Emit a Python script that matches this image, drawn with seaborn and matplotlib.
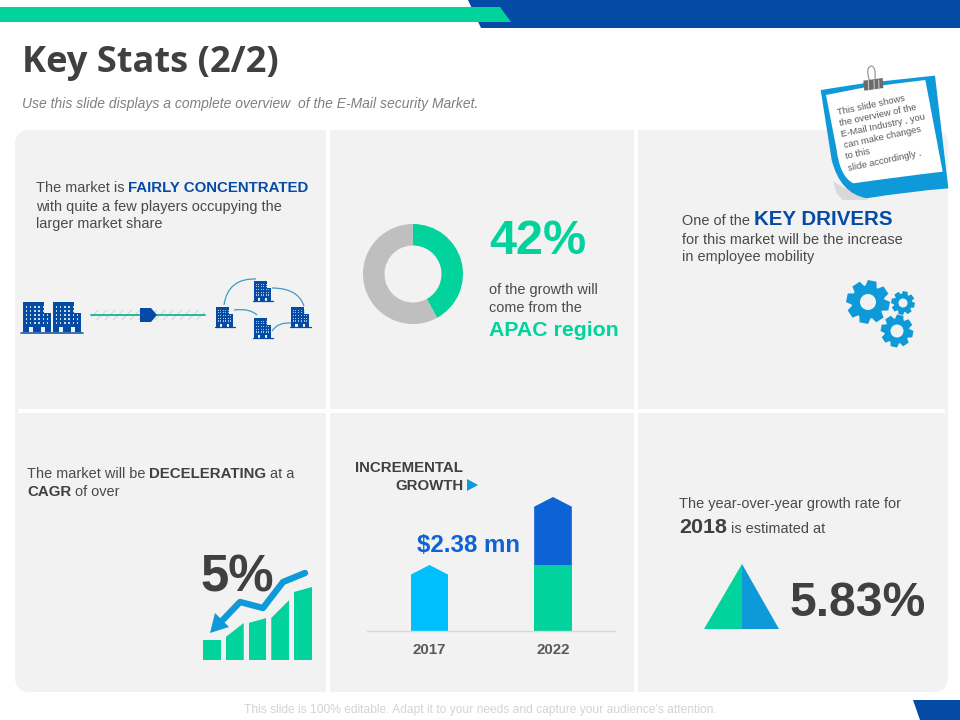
import numpy as np
import pandas as pd
import matplotlib
matplotlib.use("Agg")
import matplotlib.pyplot as plt
import seaborn as sns
from matplotlib.patches import Polygon, PathPatch, FancyBboxPatch, Rectangle, Circle
from matplotlib.path import Path

# ---- data -------------------------------------------------------------
share_labels = ["APAC", "Rest"]
share_values = [42, 58]
years = ["2017", "2022"]
base_values = [2.31, 2.31]
incremental_values = [0.0, 2.38]
cagr_steps = ["a", "b", "c", "d", "e"]
cagr_right = [20, 37, 42, 60, 73]
cagr_left = [20, 23, 37, 42, 68]
note_lines = ["This slide shows", "the overview of the", "E-Mail Industry , you",
              "can make changes", "to this", "slide accordingly ."]

GREEN = "#02D29C"
NAVY = "#044BA5"
ROYAL = "#0D62D5"
CYAN = "#00BFFF"
SKY = "#0E9AD8"
DARK = "#404040"
TEXT = "#4A4A4A"
PANEL = "#F2F2F2"
BODY = "Liberation Sans"

sns.set_theme(style="white")
plt.rcParams["font.family"] = [BODY, "DejaVu Sans"]
plt.rcParams["hatch.linewidth"] = 0.6

W, H = 960, 720
fig = plt.figure(figsize=(9.6, 7.2), dpi=100, facecolor="white")
ax = fig.add_axes([0, 0, 1, 1], zorder=1)
ax.set_xlim(0, W)
ax.set_ylim(H, 0)
ax.axis("off")
PT = 0.72


def px(a, b, c, d, z=2):
    """inset axes from pixel bounds x0,y0,x1,y1"""
    axi = fig.add_axes([a / W, 1 - d / H, (c - a) / W, (d - b) / H], zorder=z)
    axi.patch.set_alpha(0)
    return axi


def txt(x, y, s, size=14.5, color=TEXT, weight="normal", **kw):
    kw.setdefault("va", "baseline")
    return ax.text(x, y, s, fontsize=size * PT, color=color, fontweight=weight, **kw)


def runs(x, y, parts):
    r = fig.canvas.get_renderer()
    for s, size, color, weight in parts:
        t = txt(x, y, s, size, color, weight)
        x += t.get_window_extent(r).width


def poly(pts, color, z=3, **kw):
    ax.add_patch(Polygon(pts, closed=True, facecolor=color, edgecolor="none", zorder=z, **kw))


# ---- header / footer ---------------------------------------------------
poly([(468, 0), (960, 0), (960, 28), (481, 28)], NAVY)
poly([(0, 7), (500, 7), (511, 22), (0, 22)], GREEN, z=4)
poly([(913, 700), (960, 700), (960, 720), (920, 720)], NAVY)
txt(22, 72, "Key Stats (2/2)", 36.2, DARK, "bold", family="Open Sans")
txt(22, 108, "Use this slide displays a complete overview  of the E-Mail security Market.",
    13.95, "#7F7F7F", style="italic")
txt(480, 713, "This slide is 100% editable. Adapt it to your needs and capture your audience\u2019s attention.",
    12.0, "#D4D4D4", ha="center")

# ---- panels ------------------------------------------------------------
ax.add_patch(FancyBboxPatch((15, 130), 933, 562, boxstyle="round,pad=0,rounding_size=15",
                            mutation_aspect=1, fc=PANEL, ec="none", zorder=0.5))
ax.add_patch(Rectangle((326, 128), 4, 566, fc="white", ec="none", zorder=1))
ax.add_patch(Rectangle((634, 128), 4, 566, fc="white", ec="none", zorder=1))
ax.add_patch(Rectangle((18, 409), 927, 4, fc="white", ec="none", zorder=1))

# ---- top-left panel ----------------------------------------------------
runs(36, 192, [("The market is ", 14.5, TEXT, "normal"), ("FAIRLY CONCENTRATED", 15, NAVY, "bold")])
txt(36, 211, "with quite a few players occupying the")
txt(36, 228, "larger market share")


def building(x0, y0, x1, y1, glow="#C9DBEE"):
    w, h = x1 - x0, y1 - y0
    split = x0 + w * 0.74
    top2 = y0 + h * 0.36
    ax.add_patch(Rectangle((x0, y0), split - x0, h, fc=NAVY, ec="none", zorder=3))
    ax.add_patch(Rectangle((split, top2), x1 - split, y1 - top2, fc=NAVY, ec="none", zorder=3))
    for cx in np.linspace(x0 + w * 0.12, x1 - w * 0.12, 6):
        for cy in np.linspace(y0 + h * 0.16, y1 - h * 0.3, 5):
            if cx > split and cy < top2 + h * 0.05:
                continue
            ax.add_patch(Rectangle((cx - w * 0.03, cy - h * 0.028), w * 0.06, h * 0.056,
                                   fc=glow, ec="none", zorder=4))
    for cx in (x0 + w * 0.3, x0 + w * 0.72):
        ax.add_patch(Rectangle((cx - w * 0.07, y1 - h * 0.17), w * 0.14, h * 0.17,
                               fc="#EEF3F9", ec="none", zorder=4))


building(23, 302, 51, 332)
building(53, 302, 81, 332)
ax.plot([21, 83], [332.5, 332.5], color=NAVY, lw=1.1, zorder=4)
for b in [(216, 307, 233, 327), (254, 281, 271, 301), (254, 318, 271, 338), (291, 307, 309, 327)]:
    building(*b, glow="#A9C4E2")
    ax.plot([b[0] - 1.5, b[2] + 1.5], [b[3], b[3]], color=NAVY, lw=0.9, zorder=4)
for p0, c, p1 in [((224, 305), (228, 278), (256, 279)),
                  ((272, 288), (298, 288), (304, 306)),
                  ((234, 310), (250, 308), (257, 315)),
                  ((272, 331), (278, 322), (291, 323))]:
    ax.add_patch(PathPatch(Path([p0, c, p1], [Path.MOVETO, Path.CURVE3, Path.CURVE3]),
                           fc="none", ec="#3E9CC4", lw=0.9, zorder=3))
ax.add_patch(Rectangle((91, 310), 114, 10, fc="none", ec="#CFCFCF", lw=0, hatch="////", zorder=2))
ax.plot([91, 205], [315, 315], color="#10B795", lw=1.3, zorder=3)
poly([(140, 308), (151, 308), (157, 315), (151, 322), (140, 322)], NAVY, z=4)

# ---- donut -------------------------------------------------------------
ax_pie = px(363, 224, 463, 324)
ax_pie.pie(share_values, colors=[GREEN, "#BFBFBF"], startangle=90, counterclock=False, radius=1,
           wedgeprops=dict(width=0.43, edgecolor="none"))
ax_pie.set_xlim(-1, 1)
ax_pie.set_ylim(-1, 1)
txt(489, 254, "42%", 48.5, GREEN, "bold")
txt(489, 294, "of the growth will")
txt(489, 312, "come from the")
txt(489, 336, "APAC region", 21.3, GREEN, "bold")

# ---- top-right panel ---------------------------------------------------
runs(682, 225, [("One of the ", 14.5, TEXT, "normal"), ("KEY DRIVERS", 20.5, NAVY, "bold")])
txt(682, 244, "for this market will be the increase")
txt(682, 261, "in employee mobility")


def gear(cx, cy, ro, ri, rh, teeth=8):
    pts = []
    step = 2 * np.pi / teeth
    for k in range(teeth):
        a = k * step + step / 4
        for da, r in [(-0.30, ri), (-0.17, ro), (0.17, ro), (0.30, ri)]:
            pts.append((cx + r * np.cos(a + da * step * 1.5), cy + r * np.sin(a + da * step * 1.5)))
    poly(pts, SKY)
    ax.add_patch(Circle((cx, cy), ri * 0.98, fc=SKY, ec="none", zorder=3))
    ax.add_patch(Circle((cx, cy), rh, fc=PANEL, ec="none", zorder=4))


gear(868, 302, 22, 16.5, 8)
gear(903, 303, 12, 9, 4.5)
gear(897, 331, 16.5, 12.5, 6.5)

# ---- sticky note -------------------------------------------------------
Z = lambda zx, zy: (800 + zx / 3, 60 + zy / 3)


def curved(segments, fc, z):
    verts, codes = [], []
    for i, seg in enumerate(segments):
        if i == 0:
            verts.append(Z(*seg))
            codes.append(Path.MOVETO)
        elif len(seg) == 2:
            verts.append(Z(*seg))
            codes.append(Path.LINETO)
        else:
            verts += [Z(seg[0], seg[1]), Z(seg[2], seg[3])]
            codes += [Path.CURVE3, Path.CURVE3]
    verts.append(verts[0])
    codes.append(Path.CLOSEPOLY)
    ax.add_patch(PathPatch(Path(verts, codes), fc=fc, ec="none", zorder=z))


curved([(100, 365), (110, 400), (128, 420), (205, 420), (150, 395, 100, 365)], "#D9D9D9", 5)
curved([(62, 90), (190, 70), (375, 50), (405, 47), (445, 385), (320, 395, 200, 415),
        (120, 400, 95, 300)], SKY, 6)
curved([(78, 105), (190, 83), (376, 60), (428, 335), (300, 350, 160, 370),
        (120, 350, 110, 270)], "white", 7)
note_start = [(115, 165), (120, 198), (125, 230), (133, 264), (138, 298), (147, 333)]
for (zx, zy), line in zip(note_start, note_lines):
    x, y = Z(zx, zy)
    ax.text(x, y, line, fontsize=9.4 * PT, color="#595959", rotation=12, rotation_mode="anchor",
            va="baseline", ha="left", zorder=8)
# binder clip
poly([Z(190, 62), Z(248, 54), Z(250, 84), Z(193, 92)], "#6A6A6A", z=8)
for zx in (205, 222, 236):
    ax.plot(*zip(Z(zx, 60), Z(zx + 1, 88)), color="#C8C8C8", lw=0.8, zorder=9)
ax.add_patch(PathPatch(Path([Z(208, 60), Z(195, 20), Z(215, 18), Z(228, 20), Z(225, 58)],
                            [Path.MOVETO, Path.CURVE3, Path.CURVE3, Path.CURVE3, Path.CURVE3]),
                       fc="none", ec="#9A9A9A", lw=0.9, zorder=9))

# ---- bottom-left panel -------------------------------------------------
runs(27, 478, [("The market will be ", 14.5, TEXT, "normal"), ("DECELERATING", 15, DARK, "bold"),
               (" at a", 14.5, TEXT, "normal")])
runs(27, 496, [("CAGR", 15, DARK, "bold"), (" of over", 14.5, TEXT, "normal")])
txt(200, 592, "5%", 51, DARK, "bold", zorder=3)

cagr_df = pd.DataFrame({"step": cagr_steps, "value": cagr_right})
ax_c = px(201, 580, 314, 660)
sns.barplot(data=cagr_df, x="step", y="value", color=GREEN, width=0.79, saturation=1,
            linewidth=0, ax=ax_c)
ax_c.set_xlim(-0.4835, 4.4835)
ax_c.set_ylim(0, 80)
ax_c.axis("off")
for bar, lv, rv in zip(ax_c.patches, cagr_left, cagr_right):
    x0, x1 = bar.get_x(), bar.get_x() + bar.get_width()
    bar.set_clip_path(Polygon([(x0, 0), (x0, lv), (x1, rv), (x1, 0)], transform=ax_c.transData))
ax.plot([305, 283, 263, 240, 218], [573, 582, 608, 602, 625], color=SKY, lw=4.6,
        solid_capstyle="round", solid_joinstyle="round", zorder=5)
poly([(210, 633), (215, 613), (229, 627)], SKY, z=5)

# ---- incremental growth bars -------------------------------------------
txt(463, 472, "INCREMENTAL", 15.0, DARK, "bold", ha="right")
txt(463, 490, "GROWTH", 15.0, DARK, "bold", ha="right")
poly([(467, 479), (478, 485), (467, 491)], SKY)
txt(417, 552, "$2.38 mn", 24, ROYAL, "bold", zorder=6)

totals = [b + i for b, i in zip(base_values, incremental_values)]
ax_b = px(367, 490, 615, 631)
sns.barplot(x=years, y=totals, hue=years, palette=[CYAN, ROYAL], legend=False,
            width=0.305, saturation=1, linewidth=0, ax=ax_b)
sns.barplot(x=years, y=[0, base_values[1]], color=GREEN, width=0.305, saturation=1,
            linewidth=0, ax=ax_b)
ax_b.set_xlim(-0.506, 1.502)
ax_b.set_ylim(0, 141 * 4.69 / 134)
sns.despine(ax=ax_b, left=True, top=True, right=True)
ax_b.spines["bottom"].set_color("#D9D9D9")
ax_b.spines["bottom"].set_linewidth(1)
ax_b.set_yticks([])
ax_b.set_ylabel("")
ax_b.tick_params(axis="x", length=0, pad=8.5)
ax_b.set_xticks([0, 1], years)
for lab in ax_b.get_xticklabels():
    lab.set_fontsize(15 * PT)
    lab.set_fontweight("bold")
    lab.set_color("#595959")
for bar, tot in zip(ax_b.patches[:2], totals):
    x0, x1 = bar.get_x(), bar.get_x() + bar.get_width()
    sh = tot - 0.34
    bar.set_clip_path(Polygon([(x0, 0), (x0, sh), ((x0 + x1) / 2, tot), (x1, sh), (x1, 0)],
                              transform=ax_b.transData))

# ---- bottom-right panel ------------------------------------------------
txt(679, 508, "The year-over-year growth rate for")
runs(679, 533, [("2018", 21.5, DARK, "bold"), (" is estimated at", 14.5, TEXT, "normal")])
poly([(742, 564), (742, 629), (704, 629)], GREEN)
poly([(742, 564), (779, 629), (742, 629)], SKY)
txt(790, 616, "5.83%", 48, DARK, "bold")

fig.savefig("out.png", dpi=100)
